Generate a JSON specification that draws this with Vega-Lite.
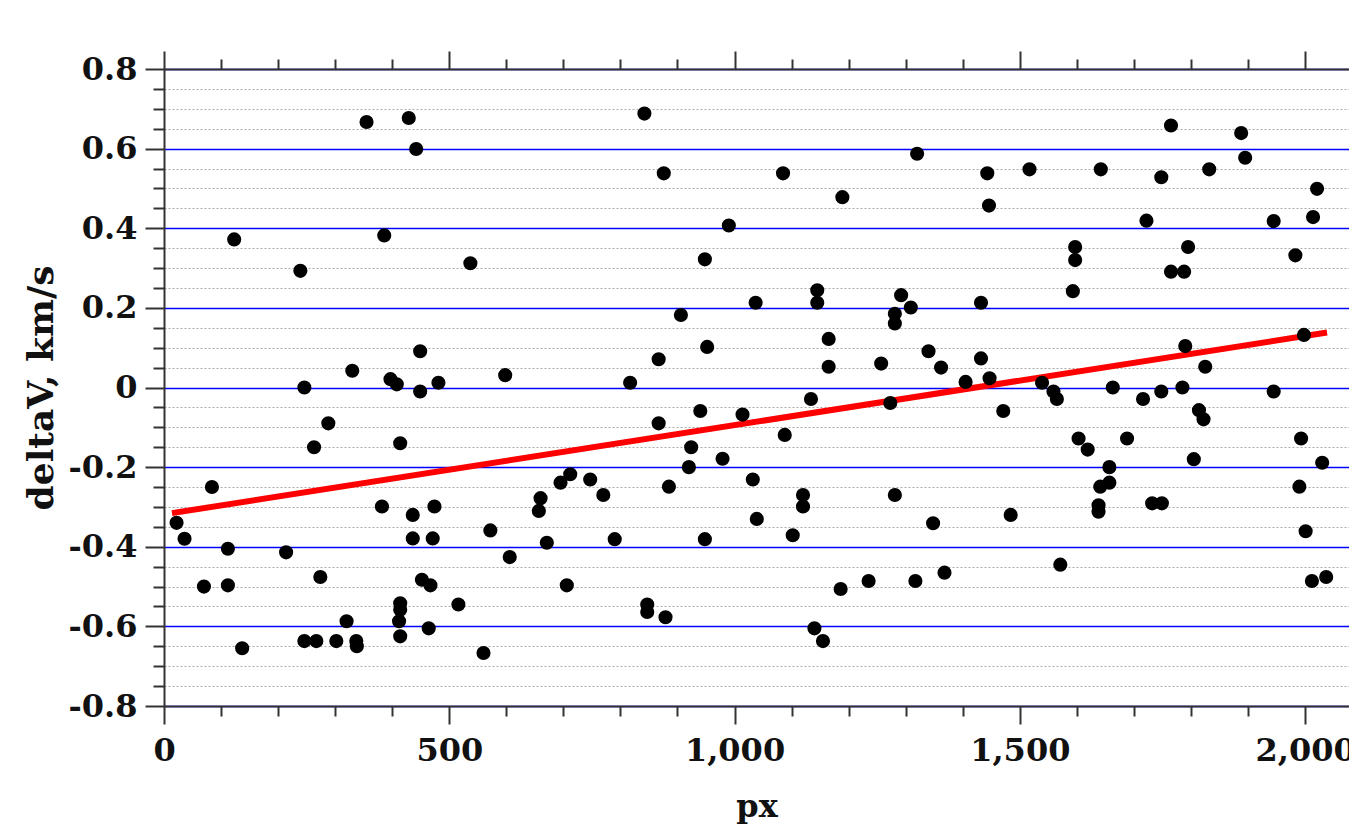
{
  "$schema": "https://vega.github.io/schema/vega-lite/v6.json",
  "width": 1185,
  "height": 637,
  "autosize": {"type": "none"},
  "padding": {"left": 164, "top": 69, "right": 0, "bottom": 121},
  "background": "white",
  "config": {
    "view": {"stroke": null},
    "axis": {
      "labelFlush": false,
      "labelOverlap": false,
      "labelFont": "DejaVu Serif",
      "labelFontWeight": "bold",
      "labelFontSize": 32,
      "labelColor": "#111111",
      "titleFont": "DejaVu Serif",
      "titleFontWeight": "bold",
      "titleFontSize": 32,
      "titleColor": "#111111",
      "domainColor": "#333333",
      "domainWidth": 2,
      "tickColor": "#333333",
      "tickWidth": 2
    }
  },
  "datasets": {
    "points": [
      {"px": 22, "dv": -0.34}, {"px": 36, "dv": -0.38}, {"px": 70, "dv": -0.5}, {"px": 84, "dv": -0.25},
      {"px": 112, "dv": -0.405}, {"px": 112, "dv": -0.497}, {"px": 123, "dv": 0.372}, {"px": 137, "dv": -0.655},
      {"px": 214, "dv": -0.414}, {"px": 239, "dv": 0.293}, {"px": 246, "dv": 0.0}, {"px": 246, "dv": -0.637},
      {"px": 263, "dv": -0.15}, {"px": 267, "dv": -0.637}, {"px": 274, "dv": -0.476}, {"px": 288, "dv": -0.09},
      {"px": 302, "dv": -0.637}, {"px": 320, "dv": -0.587}, {"px": 330, "dv": 0.042}, {"px": 337, "dv": -0.637},
      {"px": 338, "dv": -0.65}, {"px": 355, "dv": 0.667}, {"px": 382, "dv": -0.299}, {"px": 386, "dv": 0.382},
      {"px": 397, "dv": 0.021}, {"px": 408, "dv": 0.008}, {"px": 414, "dv": -0.14}, {"px": 414, "dv": -0.542},
      {"px": 414, "dv": -0.558}, {"px": 412, "dv": -0.587}, {"px": 414, "dv": -0.625}, {"px": 429, "dv": 0.677},
      {"px": 436, "dv": -0.32}, {"px": 436, "dv": -0.379}, {"px": 442, "dv": 0.599}, {"px": 449, "dv": 0.091},
      {"px": 449, "dv": -0.01}, {"px": 452, "dv": -0.483}, {"px": 464, "dv": -0.605}, {"px": 467, "dv": -0.497},
      {"px": 471, "dv": -0.379}, {"px": 474, "dv": -0.299}, {"px": 481, "dv": 0.012}, {"px": 516, "dv": -0.545},
      {"px": 537, "dv": 0.312}, {"px": 560, "dv": -0.667}, {"px": 572, "dv": -0.359},
      {"px": 598, "dv": 0.031}, {"px": 606, "dv": -0.426}, {"px": 657, "dv": -0.31}, {"px": 660, "dv": -0.278},
      {"px": 671, "dv": -0.39}, {"px": 695, "dv": -0.239}, {"px": 706, "dv": -0.497}, {"px": 712, "dv": -0.218},
      {"px": 747, "dv": -0.231}, {"px": 770, "dv": -0.27}, {"px": 790, "dv": -0.381}, {"px": 817, "dv": 0.012},
      {"px": 842, "dv": 0.688}, {"px": 847, "dv": -0.545}, {"px": 847, "dv": -0.564}, {"px": 867, "dv": 0.071},
      {"px": 867, "dv": -0.09}, {"px": 876, "dv": 0.538}, {"px": 879, "dv": -0.577}, {"px": 885, "dv": -0.249},
      {"px": 906, "dv": 0.182}, {"px": 920, "dv": -0.2}, {"px": 924, "dv": -0.15}, {"px": 940, "dv": -0.059},
      {"px": 948, "dv": 0.322}, {"px": 948, "dv": -0.381}, {"px": 952, "dv": 0.102}, {"px": 979, "dv": -0.179},
      {"px": 990, "dv": 0.407}, {"px": 1014, "dv": -0.068}, {"px": 1032, "dv": -0.231}, {"px": 1037, "dv": 0.213},
      {"px": 1039, "dv": -0.33}, {"px": 1085, "dv": 0.538}, {"px": 1088, "dv": -0.119}, {"px": 1102, "dv": -0.371},
      {"px": 1120, "dv": -0.27}, {"px": 1120, "dv": -0.299}, {"px": 1134, "dv": -0.029}, {"px": 1140, "dv": -0.605},
      {"px": 1145, "dv": 0.244}, {"px": 1145, "dv": 0.213}, {"px": 1155, "dv": -0.637}, {"px": 1165, "dv": 0.122},
      {"px": 1165, "dv": 0.052}, {"px": 1186, "dv": -0.506}, {"px": 1189, "dv": 0.478},
      {"px": 1235, "dv": -0.486}, {"px": 1257, "dv": 0.06}, {"px": 1273, "dv": -0.039}, {"px": 1281, "dv": 0.185},
      {"px": 1281, "dv": 0.161}, {"px": 1281, "dv": -0.27}, {"px": 1292, "dv": 0.232}, {"px": 1309, "dv": 0.201},
      {"px": 1317, "dv": -0.486}, {"px": 1320, "dv": 0.587}, {"px": 1340, "dv": 0.091}, {"px": 1348, "dv": -0.341},
      {"px": 1362, "dv": 0.05}, {"px": 1368, "dv": -0.465}, {"px": 1405, "dv": 0.014}, {"px": 1432, "dv": 0.213},
      {"px": 1432, "dv": 0.073}, {"px": 1443, "dv": 0.538}, {"px": 1446, "dv": 0.457}, {"px": 1447, "dv": 0.023},
      {"px": 1471, "dv": -0.059}, {"px": 1484, "dv": -0.32},
      {"px": 1517, "dv": 0.548}, {"px": 1539, "dv": 0.012}, {"px": 1559, "dv": -0.01}, {"px": 1565, "dv": -0.029},
      {"px": 1571, "dv": -0.445}, {"px": 1593, "dv": 0.242}, {"px": 1597, "dv": 0.353}, {"px": 1597, "dv": 0.32},
      {"px": 1603, "dv": -0.128}, {"px": 1619, "dv": -0.156}, {"px": 1638, "dv": -0.296}, {"px": 1638, "dv": -0.312},
      {"px": 1641, "dv": -0.249}, {"px": 1642, "dv": 0.548}, {"px": 1657, "dv": -0.2}, {"px": 1657, "dv": -0.239},
      {"px": 1663, "dv": 0.0}, {"px": 1688, "dv": -0.128}, {"px": 1716, "dv": -0.029}, {"px": 1722, "dv": 0.419},
      {"px": 1732, "dv": -0.291}, {"px": 1748, "dv": 0.528}, {"px": 1748, "dv": -0.01}, {"px": 1749, "dv": -0.291},
      {"px": 1765, "dv": 0.658}, {"px": 1765, "dv": 0.291},
      {"px": 1785, "dv": 0.0}, {"px": 1788, "dv": 0.291}, {"px": 1790, "dv": 0.104}, {"px": 1795, "dv": 0.353},
      {"px": 1805, "dv": -0.18}, {"px": 1814, "dv": -0.057}, {"px": 1822, "dv": -0.08}, {"px": 1825, "dv": 0.052},
      {"px": 1832, "dv": 0.548}, {"px": 1888, "dv": 0.639}, {"px": 1895, "dv": 0.577}, {"px": 1945, "dv": 0.418},
      {"px": 1945, "dv": -0.01}, {"px": 1983, "dv": 0.332}, {"px": 1990, "dv": -0.249}, {"px": 1993, "dv": -0.128},
      {"px": 1998, "dv": 0.132}, {"px": 2001, "dv": -0.361}, {"px": 2012, "dv": -0.486}, {"px": 2014, "dv": 0.428},
      {"px": 2021, "dv": 0.499}, {"px": 2030, "dv": -0.189}, {"px": 2037, "dv": -0.476}
    ],
    "trend": [
      {"px": 14, "dv": -0.3155},
      {"px": 2038.5, "dv": 0.138}
    ]
  },
  "layer": [
    {
      "data": {"name": "trend"},
      "mark": {"type": "line", "color": "#ff0000", "strokeWidth": 6},
      "encoding": {
        "x": {
          "field": "px", "type": "quantitative",
          "scale": {"domain": [0, 2077], "nice": false, "zero": false},
          "axis": {
            "orient": "top",
            "values": [0, 100, 200, 300, 400, 500, 600, 700, 800, 900, 1000, 1100, 1200, 1300, 1400, 1500, 1600, 1700, 1800, 1900, 2000],
            "labels": false,
            "grid": false,
            "title": null,
            "tickSize": {"condition": {"test": "datum.value % 500 == 0", "value": 18}, "value": 10}
          }
        },
        "y": {
          "field": "dv", "type": "quantitative",
          "scale": {"domain": [-0.8, 0.8], "nice": false, "zero": false},
          "axis": {
            "orient": "left",
            "values": [-0.8, -0.75, -0.7, -0.65, -0.6, -0.55, -0.5, -0.45, -0.4, -0.35, -0.3, -0.25, -0.2, -0.15, -0.1, -0.05, 0, 0.05, 0.1, 0.15, 0.2, 0.25, 0.3, 0.35, 0.4, 0.45, 0.5, 0.55, 0.6, 0.65, 0.7, 0.75, 0.8],
            "labelExpr": "abs(datum.value * 5 - round(datum.value * 5)) < 0.001 ? replace(format(datum.value, '~f'), '\u2212', '-') : ''",
            "grid": true,
            "gridColor": {"condition": {"test": "abs(datum.value * 5 - round(datum.value * 5)) < 0.001", "value": "#0000ff"}, "value": "#aaaaaa"},
            "gridDash": {"condition": {"test": "abs(datum.value * 5 - round(datum.value * 5)) < 0.001", "value": []}, "value": [2, 2]},
            "gridWidth": {"condition": {"test": "abs(datum.value * 5 - round(datum.value * 5)) < 0.001", "value": 1.5}, "value": 1},
            "tickSize": {"condition": {"test": "abs(datum.value * 5 - round(datum.value * 5)) < 0.001", "value": 19}, "value": 11},
            "labelPadding": 8,
            "title": "deltaV, km/s",
            "titleFontSize": 36,
            "titlePadding": 8
          }
        }
      }
    },
    {
      "data": {"name": "points"},
      "mark": {"type": "circle", "size": 200, "color": "#000000", "opacity": 1},
      "encoding": {
        "x": {
          "field": "px", "type": "quantitative",
          "scale": {"domain": [0, 2077], "nice": false, "zero": false},
          "axis": {
            "orient": "bottom",
            "values": [0, 100, 200, 300, 400, 500, 600, 700, 800, 900, 1000, 1100, 1200, 1300, 1400, 1500, 1600, 1700, 1800, 1900, 2000],
            "labelExpr": "datum.value % 500 == 0 ? format(datum.value, ',') : ''",
            "grid": false,
            "tickSize": {"condition": {"test": "datum.value % 500 == 0", "value": 18}, "value": 10},
            "labelPadding": 11,
            "title": "px",
            "titlePadding": 25
          }
        },
        "y": {
          "field": "dv", "type": "quantitative",
          "scale": {"domain": [-0.8, 0.8], "nice": false, "zero": false},
          "axis": null
        }
      }
    }
  ],
  "resolve": {"axis": {"x": "independent", "y": "independent"}}
}
